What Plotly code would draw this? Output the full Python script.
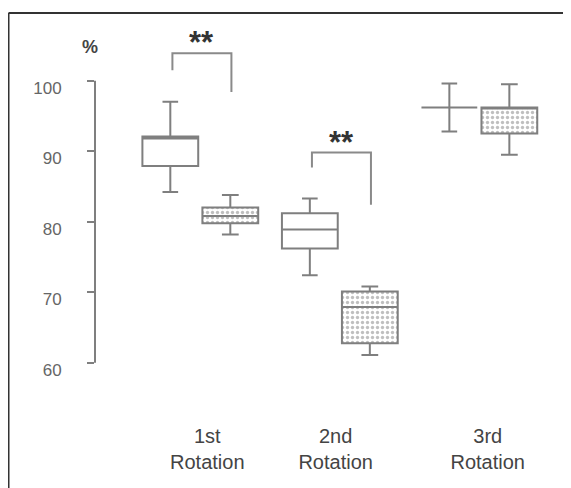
import plotly.graph_objects as go

# ---- data ----
groups = ["1st<br>Rotation", "2nd<br>Rotation", "3rd<br>Rotation"]
group_pos = [1, 2, 3]
label_pos = [1.05, 1.97, 3.06]

# white (open) boxes
white_lf = [84.2, 72.4, 92.8]
white_q1 = [87.9, 76.2, 96.2]
white_med = [91.8, 78.9, 96.2]
white_q3 = [92.1, 81.2, 96.2]
white_uf = [97.0, 83.3, 99.6]

# dotted boxes
dot_lf = [78.2, 61.1, 89.5]
dot_q1 = [79.8, 62.75, 92.5]
dot_med = [80.8, 67.9, 96.1]
dot_q3 = [82.0, 70.1, 96.2]
dot_uf = [83.8, 70.8, 99.5]

# significance brackets: (group, top, left leg end, right leg end)
brk_group = [1, 2]
brk_top = [103.9, 89.8]
brk_left_end = [101.5, 87.7]
brk_right_end = [98.4, 82.4]
brk_text = ["**", "**"]

yticks = [60, 70, 80, 90, 100]

offset = 0.215
bw = 0.40
line_col = "#7f7f7f"

fig = go.Figure()

# dotted fill under the dotted boxes
dot_x = [g + offset for g in group_pos]
fig.add_trace(go.Bar(
    x=dot_x, y=[b - a for a, b in zip(dot_q1, dot_q3)], base=dot_q1, width=bw,
    marker=dict(color="white", line=dict(width=0),
                pattern=dict(shape=".", fgcolor="#808080", bgcolor="white", size=5, solidity=0.35)),
    showlegend=False, hoverinfo="skip"))

for i, g in enumerate(group_pos):
    fig.add_trace(go.Box(
        x=[g - offset], q1=[white_q1[i]], median=[white_med[i]], q3=[white_q3[i]],
        lowerfence=[white_lf[i]], upperfence=[white_uf[i]], width=bw, whiskerwidth=0.28,
        fillcolor="white", line=dict(color=line_col, width=2), boxpoints=False,
        showlegend=False))
    fig.add_trace(go.Box(
        x=[g + offset], q1=[dot_q1[i]], median=[dot_med[i]], q3=[dot_q3[i]],
        lowerfence=[dot_lf[i]], upperfence=[dot_uf[i]], width=bw, whiskerwidth=0.3,
        fillcolor="rgba(0,0,0,0)", line=dict(color=line_col, width=2), boxpoints=False,
        showlegend=False))

shapes = []
annotations = []
for g, top, le, re, t in zip(brk_group, brk_top, brk_left_end, brk_right_end, brk_text):
    xl, xr = g - offset + 0.015, g + offset + 0.008
    shapes.append(dict(type="path", xref="x", yref="y",
                       path=f"M {xl} {le} L {xl} {top} L {xr} {top} L {xr} {re}",
                       line=dict(color="#8a8a8a", width=2)))
    annotations.append(dict(x=(xl + xr) / 2, y=top, xref="x", yref="y", text=f"<b>{t}</b>",
                            showarrow=False, yanchor="bottom", yshift=-9,
                            font=dict(size=31, color="#333", family="Liberation Sans")))

# y axis line only from 60 to 100
shapes.append(dict(type="line", xref="paper", yref="y", x0=0, x1=0, y0=yticks[0], y1=yticks[-1],
                   line=dict(color="#7f7f7f", width=2)))
# frame (left and top)
shapes.append(dict(type="line", xref="paper", yref="paper", x0=-0.186, x1=-0.186, y0=-0.31, y1=1.0194,
                   line=dict(color="#333", width=2)))
shapes.append(dict(type="line", xref="paper", yref="paper", x0=-0.186, x1=1.03, y0=1.0194, y1=1.0194,
                   line=dict(color="#333", width=2)))

annotations.append(dict(x=-0.0108, y=0.925, xref="paper", yref="paper", text="<b>%</b>",
                        showarrow=False, xanchor="center", yanchor="middle",
                        font=dict(size=18, color="#444", family="Liberation Sans")))

fig.update_layout(
    width=563, height=480,
    margin=dict(l=87, r=11, t=12, b=108, autoexpand=False),
    paper_bgcolor="white", plot_bgcolor="white",
    boxmode="overlay", barmode="overlay",
    showlegend=False,
    shapes=shapes, annotations=annotations,
    xaxis=dict(range=[0.2452, 3.578], tickvals=label_pos, ticktext=groups,
               showgrid=False, zeroline=False, showline=False, ticks="", automargin=False,
               tickfont=dict(size=20, color="#444", family="Liberation Sans"),
               ticklabelstandoff=42),
    yaxis=dict(range=[57.55, 108.61], tickvals=yticks, ticktext=[str(v) for v in yticks],
               showgrid=False, zeroline=False, showline=False, automargin=False,
               ticks="outside", ticklen=7, tickwidth=1.5, tickcolor="#7f7f7f",
               tickfont=dict(size=17, color="#666", family="Liberation Sans"),
               ticklabelstandoff=22, ticklabelshift=7),
)

fig.write_html("out.html")
